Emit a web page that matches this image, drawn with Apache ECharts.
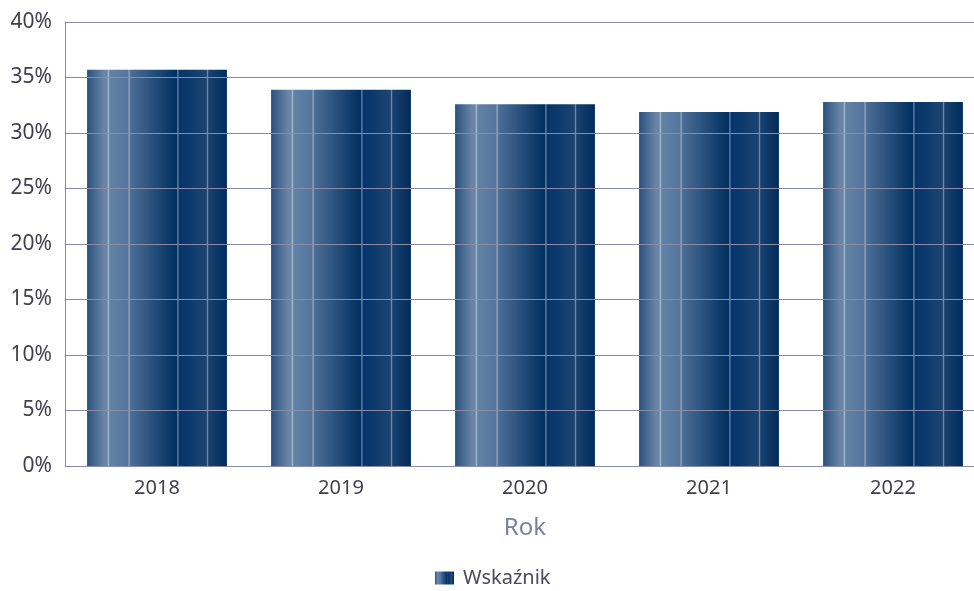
<!DOCTYPE html>
<html lang="pl">
<head>
<meta charset="UTF-8">
<title>Wskaźnik</title>
<script src="https://cdn.jsdelivr.net/npm/echarts@6/dist/echarts.min.js"></script>
<style>
body{margin:0;padding:0;background:#fff;overflow:hidden}
/* chart is a bit wider than the window, the plot is cut at the right edge */
#main{width:985px;height:591px}
</style>
</head>
<body>
<div id="main"></div>
<script>
var years = ['2018', '2019', '2020', '2021', '2022'];
var values = [35.7, 33.9, 32.6, 31.9, 32.8];
var yTicks = [0, 5, 10, 15, 20, 25, 30, 35, 40];

// metallic stripe gradient used for bars and legend icon
var barFill = new echarts.graphic.LinearGradient(0, 0, 1, 0, [
    {offset: 0, color: '#2a5280'},
    {offset: 0.12, color: '#6984a6'},
    {offset: 0.145, color: '#6a88aa'},
    {offset: 0.15, color: '#b3c6d6'},
    {offset: 0.162, color: '#6282a5'},
    {offset: 0.29, color: '#55769d'},
    {offset: 0.30, color: '#8ea6c1'},
    {offset: 0.312, color: '#4c6d95'},
    {offset: 0.64, color: '#002f60'},
    {offset: 0.648, color: '#6483a6'},
    {offset: 0.66, color: '#07346a'},
    {offset: 0.75, color: '#0f3c6c'},
    {offset: 0.853, color: '#1d4572'},
    {offset: 0.86, color: '#7390ae'},
    {offset: 0.87, color: '#1a4170'},
    {offset: 1, color: '#002b5a'}
]);

var myChart = echarts.init(document.getElementById('main'));
var option = {
    animation: false,
    textStyle: {fontFamily: 'Noto Sans'},
    grid: {left: 65, right: 0, top: 22, bottom: 125},
    legend: {
        top: 563,
        left: 430,
        itemWidth: 19,
        itemHeight: 13,
        textStyle: {fontSize: 20, color: '#4a4a5a', padding: [0, 0, 0, 4]},
        data: [{name: 'Wskaźnik', icon: 'rect'}]
    },
    xAxis: {
        type: 'category',
        data: years,
        name: 'Rok',
        nameLocation: 'middle',
        nameGap: 50,
        nameTextStyle: {fontSize: 24, color: '#7a7fa0'},
        axisLine: {lineStyle: {color: '#8a8aaa', width: 1}},
        axisTick: {show: false},
        axisLabel: {fontSize: 20, color: '#3f3f4f', margin: 12}
    },
    yAxis: {
        type: 'value',
        min: yTicks[0],
        max: yTicks[yTicks.length - 1],
        interval: 5,
        z: 3,
        axisLine: {show: true, lineStyle: {color: '#8a8aaa', width: 1}},
        axisTick: {show: false},
        splitLine: {lineStyle: {color: '#8a8aaa', width: 1}},
        axisLabel: {fontSize: 21, color: '#3f3f4f', margin: 13, formatter: '{value}%'}
    },
    series: [{
        name: 'Wskaźnik',
        type: 'bar',
        barCategoryGap: '24%',
        data: values,
        itemStyle: {color: barFill}
    }]
};
myChart.setOption(option);
</script>
</body>
</html>
